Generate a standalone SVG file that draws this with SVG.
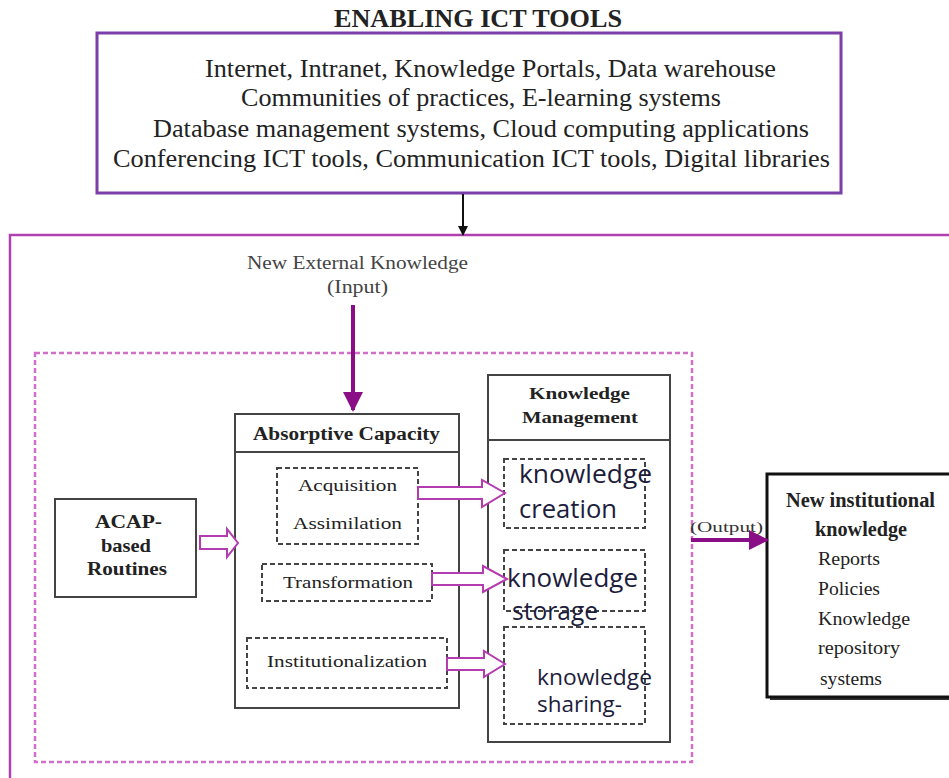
<svg xmlns="http://www.w3.org/2000/svg" width="949" height="778" viewBox="0 0 949 778">
  <defs>
    <marker id="solidHead" viewBox="0 0 10 10" refX="9" refY="5" markerWidth="10" markerHeight="10" markerUnits="userSpaceOnUse" orient="auto">
      <path d="M0,0 L10,5 L0,10 z" fill="#111"/>
    </marker>
    <marker id="purpleHead" viewBox="0 0 10 10" refX="9" refY="5" markerWidth="5" markerHeight="5" orient="auto">
      <path d="M0,0 L10,5 L0,10 z" fill="#8a0f86"/>
    </marker>
  </defs>
  <style>
    .serif { font-family: "Liberation Serif", "Times New Roman", serif; fill: #222; }
    .bold { font-weight: bold; }
    .sans { font-family: "Open Sans", "Liberation Sans", sans-serif; fill: #1c1c3c; }
    .box { fill: #fff; stroke: #444; stroke-width: 2; }
    .dash { fill: none; stroke: #444; stroke-width: 2; stroke-dasharray: 5 3; }
    .hollow { fill: #fff; stroke: #b43cb0; stroke-width: 2; stroke-linejoin: miter; }
  </style>

  <rect width="949" height="778" fill="#fff"/>

  <!-- Enabling ICT tools -->
  <g id="ict-tools">
    <text x="334" y="27" class="serif bold" font-size="25" textLength="288" lengthAdjust="spacingAndGlyphs">ENABLING ICT TOOLS</text>
    <rect x="97" y="33" width="744" height="160" fill="#fff" stroke="#7a3fa8" stroke-width="3"/>
    <text x="205" y="77" class="serif" font-size="25" textLength="571" lengthAdjust="spacingAndGlyphs">Internet, Intranet, Knowledge Portals, Data warehouse</text>
    <text x="241" y="106" class="serif" font-size="25" textLength="480" lengthAdjust="spacingAndGlyphs">Communities of practices, E-learning systems</text>
    <text x="153" y="137" class="serif" font-size="25" textLength="656" lengthAdjust="spacingAndGlyphs">Database management systems, Cloud computing applications</text>
    <text x="113" y="167" class="serif" font-size="25" textLength="717" lengthAdjust="spacingAndGlyphs">Conferencing ICT tools, Communication ICT tools, Digital libraries</text>
  </g>

  <!-- Outer frame -->
  <g id="frame">
    <rect x="10" y="235" width="960" height="560" fill="none" stroke="#b040b0" stroke-width="2.5"/>
    <rect x="35" y="353" width="657" height="409" fill="none" stroke="#d070c8" stroke-width="2.5" stroke-dasharray="5 3"/>
  </g>

  <g id="input-label">
    <text x="247" y="269" class="serif" font-size="18" style="fill:#444" textLength="221" lengthAdjust="spacingAndGlyphs">New External Knowledge</text>
    <text x="327" y="293" class="serif" font-size="18" style="fill:#444" textLength="61" lengthAdjust="spacingAndGlyphs">(Input)</text>
  </g>

  <!-- ACAP-based routines -->
  <g id="acap">
    <rect x="55" y="499" width="141" height="98" class="box"/>
    <text x="95" y="528" class="serif bold" font-size="19" textLength="67" lengthAdjust="spacingAndGlyphs">ACAP-</text>
    <text x="101" y="552" class="serif bold" font-size="19" textLength="50" lengthAdjust="spacingAndGlyphs">based</text>
    <text x="87" y="575" class="serif bold" font-size="19" textLength="80" lengthAdjust="spacingAndGlyphs">Routines</text>
  </g>

  <!-- Absorptive capacity -->
  <g id="absorptive-capacity">
    <rect x="235" y="414" width="224" height="294" class="box"/>
    <line x1="235" y1="452" x2="459" y2="452" stroke="#444" stroke-width="2"/>
    <text x="253" y="440" class="serif bold" font-size="18" textLength="187" lengthAdjust="spacingAndGlyphs">Absorptive Capacity</text>
    <g id="acquisition">
      <rect x="277" y="468" width="141" height="76" class="dash"/>
      <text x="298" y="491" class="serif" font-size="17" textLength="99" lengthAdjust="spacingAndGlyphs">Acquisition</text>
      <text x="293" y="529" class="serif" font-size="17" textLength="109" lengthAdjust="spacingAndGlyphs">Assimilation</text>
    </g>
    <g id="transformation">
      <rect x="262" y="564" width="170" height="37" class="dash"/>
      <text x="283" y="588" class="serif" font-size="17" textLength="130" lengthAdjust="spacingAndGlyphs">Transformation</text>
    </g>
    <g id="institutionalization">
      <rect x="247" y="638" width="200" height="50" class="dash"/>
      <text x="267" y="667" class="serif" font-size="17" textLength="160" lengthAdjust="spacingAndGlyphs">Institutionalization</text>
    </g>
  </g>

  <!-- Knowledge management -->
  <g id="knowledge-management">
    <rect x="488" y="375" width="182" height="367" class="box"/>
    <line x1="488" y1="440" x2="670" y2="440" stroke="#444" stroke-width="2"/>
    <text x="529" y="399" class="serif bold" font-size="16" textLength="101" lengthAdjust="spacingAndGlyphs">Knowledge</text>
    <text x="522" y="423" class="serif bold" font-size="16" textLength="116" lengthAdjust="spacingAndGlyphs">Management</text>
    <g id="creation">
      <rect x="504" y="459" width="141" height="69" class="dash"/>
      <text x="519" y="483" class="sans" font-size="25" textLength="133" lengthAdjust="spacingAndGlyphs">knowledge</text>
      <text x="519" y="518" class="sans" font-size="25" textLength="98" lengthAdjust="spacingAndGlyphs">creation</text>
    </g>
    <g id="storage">
      <rect x="504" y="550" width="141" height="61" class="dash"/>
      <text x="507" y="587" class="sans" font-size="25" textLength="131" lengthAdjust="spacingAndGlyphs">knowledge</text>
      <text x="512" y="620" class="sans" font-size="25" textLength="86" lengthAdjust="spacingAndGlyphs">storage</text>
    </g>
    <g id="sharing">
      <rect x="504" y="627" width="141" height="97" class="dash"/>
      <text x="537" y="685" class="sans" font-size="21" textLength="115" lengthAdjust="spacingAndGlyphs">knowledge</text>
      <text x="537" y="712" class="sans" font-size="21" textLength="85" lengthAdjust="spacingAndGlyphs">sharing-</text>
    </g>
  </g>

  <!-- New institutional knowledge -->
  <g id="output-box">
    <rect x="770" y="477" width="190" height="223" fill="#333"/>
    <rect x="767" y="474" width="190" height="223" fill="#fff" stroke="#111" stroke-width="3"/>
    <text x="786" y="507" class="serif bold" font-size="20" textLength="149" lengthAdjust="spacingAndGlyphs">New institutional</text>
    <text x="815" y="536" class="serif bold" font-size="20" textLength="92" lengthAdjust="spacingAndGlyphs">knowledge</text>
    <text x="818" y="565" class="serif" font-size="19" textLength="62" lengthAdjust="spacingAndGlyphs">Reports</text>
    <text x="818" y="595" class="serif" font-size="19" textLength="62" lengthAdjust="spacingAndGlyphs">Policies</text>
    <text x="818" y="625" class="serif" font-size="19" textLength="92" lengthAdjust="spacingAndGlyphs">Knowledge</text>
    <text x="818" y="654" class="serif" font-size="19" textLength="82" lengthAdjust="spacingAndGlyphs">repository</text>
    <text x="820" y="685" class="serif" font-size="19" textLength="62" lengthAdjust="spacingAndGlyphs">systems</text>
  </g>

  <!-- Connectors -->
  <g id="connectors">
    <line x1="463" y1="194" x2="463" y2="235" stroke="#111" stroke-width="2" marker-end="url(#solidHead)"/>
    <line x1="353" y1="305" x2="353" y2="410" stroke="#8a0f86" stroke-width="4" marker-end="url(#purpleHead)"/>
    <line x1="691" y1="540" x2="767" y2="540" stroke="#8a0f86" stroke-width="4" marker-end="url(#purpleHead)"/>
    <text x="690" y="532" class="serif" font-size="15" style="fill:#333" textLength="73" lengthAdjust="spacingAndGlyphs">(Output)</text>
    <!-- hollow block arrows -->
    <path d="M200,536 L227,536 L227,529 L238,543 L227,557 L227,549 L200,549 z" class="hollow"/>
    <path d="M418,487 L482,487 L482,480 L505,493 L482,507 L482,499 L418,499 z" class="hollow"/>
    <path d="M432,573 L483,573 L483,566 L507,579 L483,592 L483,585 L432,585 z" class="hollow"/>
    <path d="M447,658 L484,658 L484,651 L505,664 L484,677 L484,670 L447,670 z" class="hollow"/>
  </g>
</svg>
